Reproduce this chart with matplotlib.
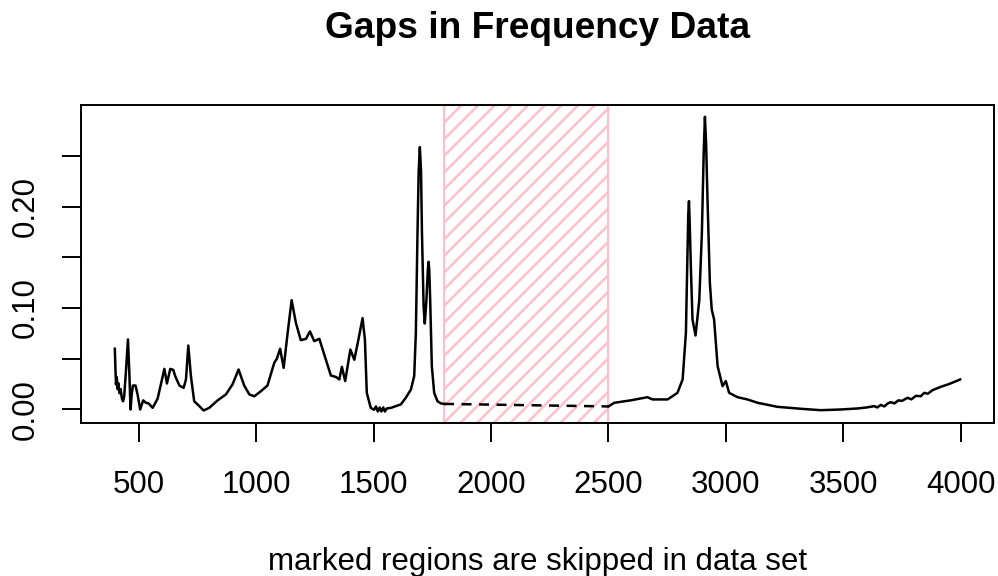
import matplotlib
matplotlib.use("Agg")
import matplotlib.pyplot as plt
from matplotlib.patches import Rectangle

plt.rcParams['font.family'] = ['Liberation Sans', 'DejaVu Sans']
plt.rcParams['hatch.color'] = 'pink'
plt.rcParams['hatch.linewidth'] = 1.8

# spectrum: part below the gap
wn_low = [398, 401, 403, 406, 410, 413, 418, 423, 428, 433, 438, 446, 454, 460, 465,
          470, 475, 486, 495, 506, 513, 519, 530, 542, 559, 580, 594, 609, 620, 634,
          647, 655, 673, 691, 701, 711, 722, 736, 758, 776, 800, 836, 871, 899, 925,
          949, 971, 992, 1020, 1048, 1077, 1088, 1102, 1117, 1134, 1151, 1169, 1190,
          1212, 1229, 1247, 1269, 1290, 1318, 1340, 1354, 1365, 1379, 1401, 1418, 1436,
          1453, 1463, 1471, 1488, 1502, 1510, 1518, 1526, 1533, 1541, 1548, 1556, 1574,
          1616, 1637, 1659, 1673, 1680, 1687, 1692, 1697, 1702, 1706, 1713, 1718, 1725,
          1731, 1734, 1737, 1741, 1748, 1758, 1772, 1786, 1800]
abs_low = [0.0598, 0.0378, 0.0246, 0.032, 0.020, 0.026, 0.016, 0.020, 0.011, 0.008,
           0.013, 0.040, 0.069, 0.035, 0.000, 0.015, 0.0236, 0.0236, 0.0148, 0.000,
           0.005, 0.009, 0.0066, 0.006, 0.0016, 0.0105, 0.0246, 0.040, 0.0256, 0.040,
           0.039, 0.033, 0.0236, 0.0213, 0.0296, 0.063, 0.033, 0.0082, 0.0033, -0.001,
           0.0016, 0.009, 0.0148, 0.0246, 0.0394, 0.0236, 0.0148, 0.013, 0.018, 0.0236,
           0.046, 0.050, 0.0598, 0.041, 0.0755, 0.1077, 0.0854, 0.0683, 0.0696, 0.077,
           0.0673, 0.0696, 0.054, 0.0335, 0.032, 0.0296, 0.042, 0.028, 0.059, 0.049,
           0.0696, 0.090, 0.069, 0.0164, 0.0016, -0.0003, 0.003, -0.002, 0.002, -0.002,
           0.002, -0.002, 0.001, 0.0016, 0.005, 0.0115, 0.0197, 0.033, 0.0755, 0.174,
           0.235, 0.2585, 0.235, 0.174, 0.1018, 0.0847, 0.108, 0.138, 0.1455, 0.138,
           0.108, 0.0427, 0.0164, 0.0082, 0.006, 0.0055]

# part above the gap
wn_high = [2500, 2525, 2595, 2666, 2688, 2752, 2794, 2816, 2830, 2837, 2840, 2843,
           2846, 2851, 2858, 2871, 2887, 2898, 2906, 2911, 2916, 2922, 2932, 2940,
           2950, 2965, 2986, 3000, 3014, 3050, 3092, 3135, 3220, 3319, 3404, 3490,
           3561, 3600, 3632, 3645, 3660, 3675, 3690, 3702, 3718, 3735, 3750, 3774,
           3790, 3810, 3830, 3845, 3860, 3880, 3915, 3950, 3998]
abs_high = [0.003, 0.0066, 0.009, 0.0121, 0.0099, 0.0099, 0.0164, 0.0296, 0.0755,
            0.1576, 0.192, 0.2053, 0.185, 0.141, 0.0887, 0.0729, 0.108, 0.174, 0.255,
            0.2884, 0.262, 0.207, 0.1248, 0.0985, 0.0887, 0.0427, 0.023, 0.028, 0.0164,
            0.0121, 0.0099, 0.0066, 0.0026, 0.0007, -0.0007, 0.0, 0.001, 0.002, 0.0033,
            0.002, 0.0045, 0.003, 0.006, 0.0072, 0.006, 0.009, 0.0085, 0.0115, 0.010,
            0.0135, 0.013, 0.0164, 0.0155, 0.019, 0.0223, 0.025, 0.0296]

gap = (1800, 2500)
x_ticks = [500, 1000, 1500, 2000, 2500, 3000, 3500, 4000]
y_ticks = [0.00, 0.05, 0.10, 0.15, 0.20, 0.25]
y_labels = ['0.00', '', '0.10', '', '0.20', '']

fig = plt.figure(figsize=(9.98, 5.76), dpi=100)
ax = fig.add_axes([81 / 998, 1 - 423.3 / 576, 913 / 998, 318.3 / 576])

# R-style 4% padding on both axes
xmin, xmax = min(wn_low), max(wn_high)
ymin, ymax = min(abs_low + abs_high), max(abs_low + abs_high)
ax.set_xlim(xmin - 0.04 * (xmax - xmin), xmax + 0.04 * (xmax - xmin))
ax.set_ylim(ymin - 0.04 * (ymax - ymin), ymax + 0.04 * (ymax - ymin))

# skipped region, hatched in pink over the whole plot height
y0, y1 = ax.get_ylim()
ax.add_patch(Rectangle((gap[0], y0), gap[1] - gap[0], y1 - y0, facecolor='none',
                       edgecolor='pink', hatch='//', linewidth=1.6, zorder=1))

ax.plot(wn_low, abs_low, color='black', linewidth=1.8, zorder=3)
ax.plot(wn_high, abs_high, color='black', linewidth=1.8, zorder=3)
ax.plot([wn_low[-1], wn_high[0]], [abs_low[-1], abs_high[0]], color='black',
        linewidth=1.8, linestyle=(0, (4, 3)), zorder=3)

ax.set_xticks(x_ticks)
ax.set_yticks(y_ticks)
ax.set_yticklabels(y_labels, rotation=90, va='center')
ax.tick_params(axis='both', length=13.7, width=1.4, labelsize=22.5)
ax.tick_params(axis='x', pad=20)
ax.tick_params(axis='y', pad=15)
for s in ax.spines.values():
    s.set_linewidth(1.4)

fig.text(537.5 / 998, 1 - 38.3 / 576, 'Gaps in Frequency Data', ha='center',
         va='baseline', fontsize=26.7, fontweight='bold')
fig.text(537.5 / 998, 1 - 570 / 576, 'marked regions are skipped in data set',
         ha='center', va='baseline', fontsize=22.5)

fig.savefig('out.png', dpi=100)
